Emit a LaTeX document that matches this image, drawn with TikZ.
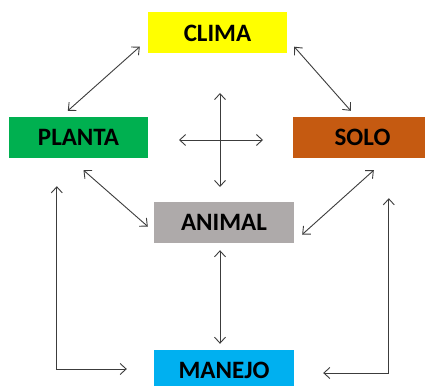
\documentclass[tikz,border=0pt]{standalone}
\usepackage{fontspec}
\setmainfont{Carlito}
\usetikzlibrary{arrows.meta}
\definecolor{cyel}{HTML}{FFFF00}
\definecolor{cgreen}{HTML}{00B050}
\definecolor{corange}{HTML}{C55A11}
\definecolor{cgray}{HTML}{AEAAAA}
\definecolor{cblue}{HTML}{00B0F0}
\definecolor{lnc}{HTML}{3C3C3C}
\tikzset{
  box/.style={minimum width=139pt, minimum height=41pt, inner sep=0pt,
    font=\fontsize{25}{28}\selectfont\bfseries, text=black},
  arr/.style={draw=lnc, line width=0.9pt,
    {Straight Barb[length=6pt,width=11pt]}-{Straight Barb[length=6pt,width=11pt]}},
}
\begin{document}
\begin{tikzpicture}[x=1pt,y=-1pt]
\useasboundingbox (0,0) rectangle (425,385);
\clip (0,0) rectangle (425,385);
\fill[white] (0,0) rectangle (425,385);
\node[box, fill=cyel] (clima) at (217.5,33) {CLIMA};
\node[box, fill=cgreen] (planta) at (78.5,137.5) {PLANTA};
\node[box, fill=corange] (solo) at (362.5,137.5) {SOLO};
\node[box, fill=cgray, minimum width=140pt] (animal) at (224,222.5) {ANIMAL};
\node[box, fill=cblue, minimum width=140pt] (manejo) at (224,370.5) {MANEJO};
\coordinate (cross) at (220,140);
% diagonal links
\draw[arr] ([shift={(59,-6)}]planta.north west) -- ([shift={(-8,-7)}]clima.south west);
\draw[arr] ([shift={(7,-7)}]clima.south east) -- ([shift={(58,-6)}]solo.north west);
\draw[arr] ([shift={(5,12)}]planta.south) -- ([shift={(-6,4)}]animal.west);
\draw[arr] ([shift={(81,12)}]solo.south west) -- ([shift={(8,12)}]animal.east);
% cross
\draw[arr] ([yshift=-47]cross) -- ([yshift=47]cross);
\draw[arr] ([xshift=-41]cross) -- ([xshift=43]cross);
% animal - manejo
\draw[arr] ([shift={(-4,7)}]animal.south) -- ([shift={(-4,-6)}]manejo.north);
% elbows
\draw[arr] ([shift={(48,28)}]planta.south west) |- ([shift={(-27,-1.5)}]manejo.west);
\draw[arr] ([shift={(96,40)}]solo.south west) |- ([shift={(29,2.5)}]manejo.east);
\end{tikzpicture}
\end{document}
